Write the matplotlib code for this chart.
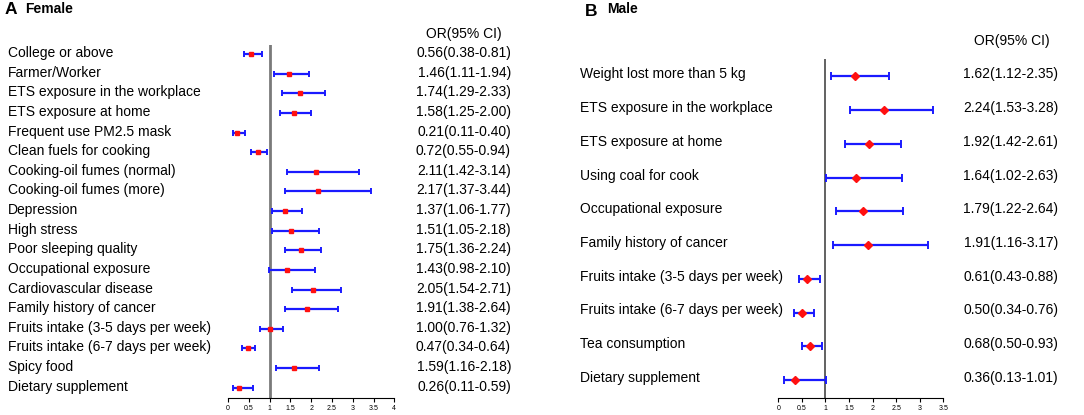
import matplotlib.pyplot as plt
from matplotlib.transforms import blended_transform_factory

plt.rcParams['font.family'] = ['Liberation Sans', 'DejaVu Sans']

# Female (panel A)
f_labels = ["College or above", "Farmer/Worker", "ETS exposure in the workplace",
            "ETS exposure at home", "Frequent use PM2.5 mask", "Clean fuels for cooking",
            "Cooking-oil fumes (normal)", "Cooking-oil fumes (more)", "Depression",
            "High stress", "Poor sleeping quality", "Occupational exposure",
            "Cardiovascular disease", "Family history of cancer",
            "Fruits intake (3-5 days per week)", "Fruits intake (6-7 days per week)",
            "Spicy food", "Dietary supplement"]
f_or = [0.56, 1.46, 1.74, 1.58, 0.21, 0.72, 2.11, 2.17, 1.37, 1.51, 1.75, 1.43,
        2.05, 1.91, 1.00, 0.47, 1.59, 0.26]
f_lo = [0.38, 1.11, 1.29, 1.25, 0.11, 0.55, 1.42, 1.37, 1.06, 1.05, 1.36, 0.98,
        1.54, 1.38, 0.76, 0.34, 1.16, 0.11]
f_hi = [0.81, 1.94, 2.33, 2.00, 0.40, 0.94, 3.14, 3.44, 1.77, 2.18, 2.24, 2.10,
        2.71, 2.64, 1.32, 0.64, 2.18, 0.59]
f_ticks = [0, 0.5, 1, 1.5, 2, 2.5, 3, 3.5, 4]

# Male (panel B)
m_labels = ["Weight lost more than 5 kg", "ETS exposure in the workplace",
            "ETS exposure at home", "Using coal for cook", "Occupational exposure",
            "Family history of cancer", "Fruits intake (3-5 days per week)",
            "Fruits intake (6-7 days per week)", "Tea consumption", "Dietary supplement"]
m_or = [1.62, 2.24, 1.92, 1.64, 1.79, 1.91, 0.61, 0.50, 0.68, 0.36]
m_lo = [1.12, 1.53, 1.42, 1.02, 1.22, 1.16, 0.43, 0.34, 0.50, 0.13]
m_hi = [2.35, 3.28, 2.61, 2.63, 2.64, 3.17, 0.88, 0.76, 0.93, 1.01]
m_ticks = [0, 0.5, 1, 1.5, 2, 2.5, 3, 3.5]

W, H = 1084, 415
fig = plt.figure(figsize=(W / 100, H / 100), dpi=100)


def px(x0, y_top, x1, y_bot):
    # pixel box -> figure fraction rect
    return [x0 / W, 1 - y_bot / H, (x1 - x0) / W, (y_bot - y_top) / H]


def forest(rect, labels, ors, lo, hi, ticks, ylim, marker, ms, cap, vcol, vlw,
           lab_x, or_x, dy):
    ax = fig.add_axes(rect)
    rows = list(range(len(labels)))
    xerr = [[o - l for o, l in zip(ors, lo)], [h - o for o, h in zip(ors, hi)]]
    ax.axvline(1, color=vcol, lw=vlw, zorder=1)
    ax.errorbar(ors, rows, xerr=xerr, fmt='none', ecolor='#1a1aff', elinewidth=1.6,
                capsize=cap, capthick=1.4, zorder=2)
    ax.plot(ors, rows, ls='none', marker=marker, ms=ms, color='#ff1010',
            mec='#ff1010', zorder=3)
    ax.set_xlim(ticks[0], ticks[-1])
    ax.set_ylim(*ylim)
    for s in ['top', 'right', 'left']:
        ax.spines[s].set_visible(False)
    ax.spines['bottom'].set_linewidth(0.8)
    ax.set_yticks([])
    ax.set_xticks(ticks)
    ax.set_xticklabels([('%g' % t) for t in ticks], fontsize=5)
    ax.tick_params(axis='x', length=3, width=0.8, pad=2)
    tr = blended_transform_factory(fig.transFigure, ax.transData)
    for r, lab, o, l, h in zip(rows, labels, ors, lo, hi):
        fig.text(lab_x / W, 0, lab, transform=tr, fontsize=10, va='center',
                 ha='left').set_y(r + dy)
        fig.text(or_x / W, 0, '%.2f(%.2f-%.2f)' % (o, l, h), transform=tr,
                 fontsize=10, va='center', ha='right').set_y(r + dy)
    return ax


forest(px(228, 45, 394.3, 398), f_labels, f_or, f_lo, f_hi, f_ticks,
       (17.525, -0.458), 's', 2.8, 2.2, '#7a7a7a', 2.0, 8, 511, -0.05)
forest(px(778.3, 59, 943.3, 398), m_labels, m_or, m_lo, m_hi, m_ticks,
       (9.533, -0.513), 'D', 4.5, 3.2, '#555555', 1.3, 580, 1058, -0.06)

fig.text(5 / W, 1 - 10 / H, 'A', fontsize=12.5, fontweight='bold', va='center')
fig.text(25 / W, 1 - 9 / H, 'Female', fontsize=10, fontweight='bold', va='center')
fig.text(464 / W, 1 - 34 / H, 'OR(95% CI)', fontsize=10, va='center', ha='center')

fig.text(585 / W, 1 - 11 / H, 'B', fontsize=12.5, fontweight='bold', va='center')
fig.text(607 / W, 1 - 9 / H, 'Male', fontsize=10, fontweight='bold', va='center')
fig.text(1012 / W, 1 - 41 / H, 'OR(95% CI)', fontsize=10, va='center', ha='center')

fig.savefig('out.png', dpi=100)
